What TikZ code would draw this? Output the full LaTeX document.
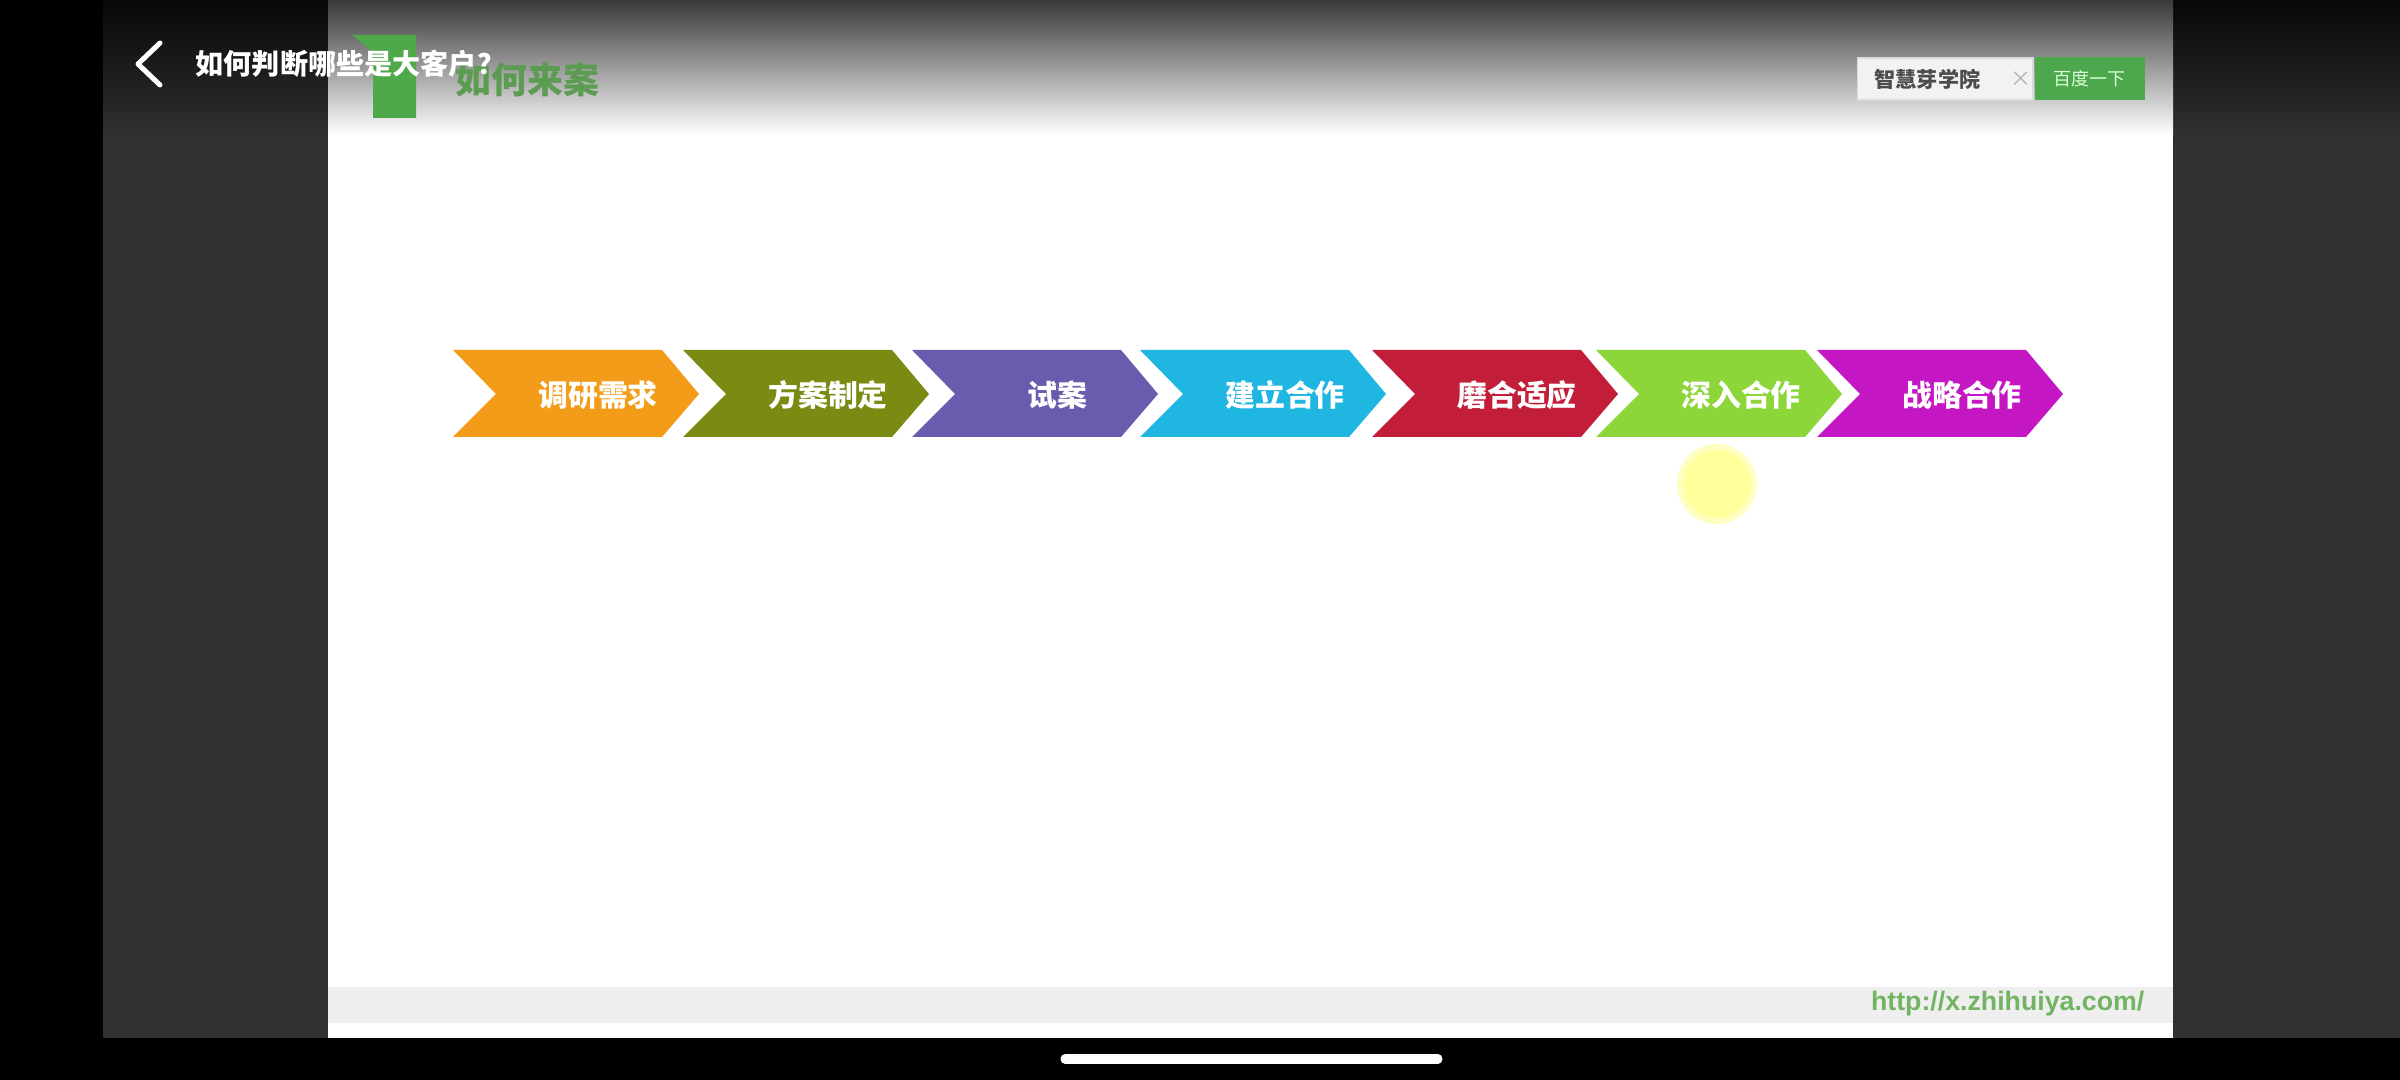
\documentclass[tikz,border=0pt]{standalone}
\usepackage{fontspec}
\setmainfont{Noto Sans CJK SC}
\newfontfamily\urlfont{Liberation Sans}
\definecolor{fase1}{HTML}{F39C1A}
\definecolor{fase2}{HTML}{7B8A12}
\definecolor{fase3}{HTML}{6B5BAE}
\definecolor{fase4}{HTML}{1FB6E1}
\definecolor{fase5}{HTML}{C21E3A}
\definecolor{fase6}{HTML}{8DD63A}
\definecolor{fase7}{HTML}{C516C4}
\definecolor{pannello}{HTML}{313131}
\definecolor{ombra}{HTML}{3A3838}
\definecolor{fascia}{HTML}{EFEFEF}
\definecolor{verdeuno}{HTML}{4FA84A}
\definecolor{verdetit}{HTML}{5C9C52}
\definecolor{cercabg}{HTML}{F2F2F2}
\definecolor{cercabordo}{HTML}{DADADA}
\definecolor{verdebtn}{HTML}{4DA84D}
\definecolor{verdeurl}{HTML}{73B463}
\definecolor{cursore}{HTML}{FFFF9C}
\tikzset{
  % testo dentro le frecce
  fasetxt/.style={text=white, inner sep=0pt, font=\fontsize{8.5pt}{10pt}\selectfont\bfseries},
  % titolo del video
  titolo/.style={text=white, inner sep=0pt, anchor=west, font=\fontsize{8pt}{10pt}\selectfont\bfseries},
  % titolo della diapositiva
  sezione/.style={text=verdetit, inner sep=0pt, anchor=west, font=\fontsize{10.2pt}{12pt}\selectfont\bfseries},
  % casella di ricerca
  cerca/.style={draw=cercabordo, fill=cercabg, minimum width=1.75cm, minimum height=0.42cm, inner sep=0pt},
  cercatxt/.style={text=black!70, inner sep=0pt, anchor=west, font=\fontsize{6pt}{7pt}\selectfont\bfseries},
  bottone/.style={fill=verdebtn, text=green!15!white, minimum width=1.1cm, minimum height=0.43cm,
    inner sep=0pt, font=\fontsize{5.1pt}{6pt}\selectfont},
  % indirizzo in basso
  sito/.style={text=verdeurl, inner sep=0pt, anchor=east, font=\urlfont\fontsize{7.6pt}{9pt}\selectfont\bfseries},
}

\begin{document}
\begin{tikzpicture}[x=0.01cm, y=-0.01cm]
  \newcommand{\fase}[4]{%
    \begin{scope}[shift={(#1,0)}]
      \fill[#3] (0,350) -- (209,350) -- (246,394) -- (209,437) -- (0,437) -- (43,394) -- cycle;
      \node[fasetxt] (#2) at (145,395) {#4};
    \end{scope}}
  \useasboundingbox (0,0) rectangle (2400,1080);
  % fondo del telefono
  \fill[black] (0,0) rectangle (2400,1080);
  \fill[pannello] (103,0) rectangle (328,1038);
  \fill[pannello] (2173,0) rectangle (2400,1038);
  \shade[top color=black!85!pannello, bottom color=pannello] (103,0) rectangle (328,140);
  \shade[top color=black!85!pannello, bottom color=pannello] (2173,0) rectangle (2400,140);
  % diapositiva
  \fill[white] (328,0) rectangle (2173,1038);
  \shade[top color=ombra, bottom color=white] (328,0) rectangle (2173,135);
  \fill[fascia] (328,987) rectangle (2173,1023);
  \fill[verdeuno] (352,35) -- (416,35) -- (416,118) -- (373,118) -- (373,52) -- cycle;
  \node[sezione] (capitolo) at (455,80) {如何来案};
  \node[cerca, anchor=west] (casella) at (1857,79) {};
  \node[cercatxt] (scuola) at (1874,79) {智慧芽学院};
  \node[text=black!30, inner sep=0pt, anchor=west, font=\fontsize{6pt}{7pt}\selectfont] (chiudi) at (2010,79) {×};
  \node[bottone, anchor=west] (vai) at (2034,78.5) {百度一下};
  % barra del video
  \draw[white, line width=0.05cm, line cap=round, line join=round] (160,43) -- (138,64) -- (160,85);
  \node[titolo] (domanda) at (195,64) {如何判断哪些是大客户？};
  % le sette fasi
  \fase{453}{ricerca}{fase1}{调研需求}
  \fase{683}{piano}{fase2}{方案制定}
  \fase{912}{prova}{fase3}{试案}
  \fase{1140}{avvio}{fase4}{建立合作}
  \fase{1372}{rodaggio}{fase5}{磨合适应}
  \fase{1596}{intesa}{fase6}{深入合作}
  \fase{1817}{strategia}{fase7}{战略合作}
  % cursore
  \fill[cursore, opacity=0.6] (1717,484) circle (0.40cm);
  \fill[cursore] (1717,484) circle (0.34cm);
  % piede
  \node[sito] (indirizzo) at (2145,1004) {http://x.zhihuiya.com/};
  \draw[white, line width=0.09cm, line cap=round] (1065,1059) -- (1438,1059);
\end{tikzpicture}
\end{document}
